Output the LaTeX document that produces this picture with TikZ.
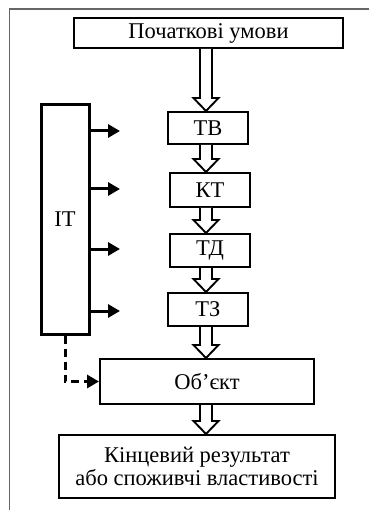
\documentclass[tikz,border=0pt]{standalone}
\usepackage{fontspec}
\setmainfont{Liberation Serif}
\usetikzlibrary{calc,arrows.meta}
\tikzset{
  box/.style={draw, line width=2pt, rectangle, inner sep=0pt, align=center, font=\fontsize{22.5}{23.5}\selectfont},
  itbox/.style={box, line width=3pt},
  hollow/.style={draw, line width=1.9pt, fill=white, line join=miter},
  side/.style={line width=3pt, -{Triangle[length=12pt,width=13pt]}},
  dashside/.style={side, dash pattern=on 8pt off 5pt},
  frame/.style={draw=black!60, line width=1.5pt}
}
\newcommand\harrow[2]{%
  \draw[hollow] ($(axis|-#1.south)+(-6,0)$) -- ($(axis|-#2.north)+(-6,-13)$) -- ($(axis|-#2.north)+(-12.5,-13)$) -- (axis|-#2.north) -- ($(axis|-#2.north)+(12.5,-13)$) -- ($(axis|-#2.north)+(6,-13)$) -- ($(axis|-#1.south)+(6,0)$);}
\begin{document}
\begin{tikzpicture}[x=1pt,y=-1pt]
\useasboundingbox (0,0) rectangle (369,510);
\draw[frame] (9.5,510) -- (9.5,9) -- (369,9);
\coordinate (axis) at (206,0);
\node[box, minimum width=269pt, minimum height=30pt] (pu) at (208.5,33) {Початкові умови};
\node[box, minimum width=80pt, minimum height=32pt] (tv) at (208,128) {ТВ};
\node[box, minimum width=80pt, minimum height=34pt] (kt) at (210,190) {КТ};
\node[box, minimum width=80pt, minimum height=33pt] (td) at (210,250.5) {ТД};
\node[box, minimum width=80pt, minimum height=33pt] (tz) at (208,309.5) {ТЗ};
\node[box, minimum width=214pt, minimum height=45pt] (ob) at (207,381.5) {Об’єкт};
\node[box, minimum width=276pt, minimum height=63pt] (fin) at (197,466.5) {Кінцевий результат\\або споживчі властивості};
\node[itbox, minimum width=48pt, minimum height=229pt] (it) at (65,219.5) {ІТ};
\harrow{pu}{tv}
\harrow{tv}{kt}
\harrow{kt}{td}
\harrow{td}{tz}
\harrow{tz}{ob}
\harrow{ob}{fin}
\coordinate (e1) at (120,131);
\coordinate (e2) at (120,189);
\coordinate (e3) at (120,249);
\coordinate (e4) at (120,311);
\foreach \e in {e1,e2,e3,e4} \draw[side] (it.east|-\e) -- (\e);
\draw[dashside] (it.south) |- (ob.west);
\end{tikzpicture}
\end{document}
